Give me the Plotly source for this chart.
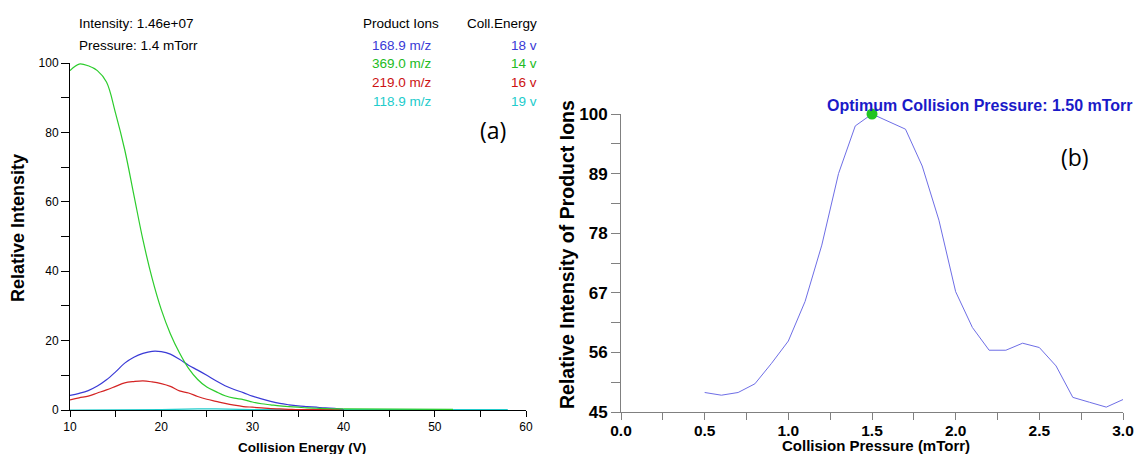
import plotly.graph_objects as go

W, H = 1138, 454

# ---------------- data: panel (a) ----------------
energy = [10, 11, 12, 13, 14, 15, 16, 17, 18, 19, 20, 21, 22, 23, 24, 25, 26, 27, 28, 29,
          30, 31, 32, 33, 34, 35, 36, 37, 38, 39, 40]
ion_1689 = [4.2, 4.8, 5.6, 6.9, 8.7, 11.0, 13.5, 15.2, 16.3, 16.9, 16.8, 16.1, 14.6, 12.9, 11.5,
            10.0, 8.4, 7.0, 5.9, 5.0, 4.0, 3.2, 2.5, 1.9, 1.5, 1.2, 1.0, 0.8, 0.6, 0.5, 0.2]
ion_3690 = [97.8, 99.7, 99.2, 97.8, 94.5, 85.5, 75.0, 62.0, 49.0, 38.0, 29.0, 22.0, 16.5, 12.0, 8.8,
            6.6, 5.3, 4.1, 3.4, 3.0, 2.3, 1.8, 1.5, 1.2, 1.0, 0.8, 0.6, 0.5, 0.4, 0.35, 0.3]
ion_2190 = [2.9, 3.5, 4.0, 4.9, 5.8, 6.8, 7.8, 8.2, 8.4, 8.1, 7.6, 6.8, 5.5, 4.9, 3.9,
            3.1, 2.5, 1.9, 1.4, 1.0, 0.8, 0.6, 0.4, 0.3, 0.2, 0.1, 0.1, 0.1, 0.1, 0.1, 0.1]
tail_energy_3690 = [40, 44, 48, 52]
tail_3690 = [0.3, 0.2, 0.2, 0.2]
energy_1189 = [10, 15, 20, 24, 25, 26, 30, 40, 50, 58]
ion_1189 = [0.0, 0.0, 0.1, 0.3, 0.4, 0.3, 0.1, 0.1, 0.1, 0.1]

product_ions = ["168.9 m/z", "369.0 m/z", "219.0 m/z", "118.9 m/z"]
coll_energy = ["18 v", "14 v", "16 v", "19 v"]

# ---------------- data: panel (b) ----------------
pressure = [0.5, 0.6, 0.7, 0.8, 0.9, 1.0, 1.1, 1.2, 1.3, 1.4, 1.5, 1.6, 1.7, 1.8, 1.9, 2.0,
            2.1, 2.2, 2.3, 2.4, 2.5, 2.6, 2.7, 2.8, 2.9, 3.0]
rel_int = [48.6, 48.1, 48.6, 50.2, 54.0, 58.1, 65.4, 75.8, 89.0, 97.8, 100.0, 98.6, 97.2, 90.4,
           80.4, 67.2, 60.6, 56.4, 56.4, 57.7, 56.9, 53.5, 47.7, 46.8, 45.9, 47.3]
opt_pressure = [1.5]
opt_value = [100.0]
b_yticks = [45, 56, 67, 78, 89, 100]

BLUE = "#3a3ad6"
GREEN = "#2ccc2c"
RED = "#d42424"
CYAN = "#22cccc"
LBLUE = "#6e6ee6"


def px(x):
    return x / W


def py(y):
    return (H - y) / H


fig = go.Figure()

fig.add_trace(go.Scatter(x=energy_1189, y=ion_1189, mode="lines",
                         line=dict(color=CYAN, width=1.2), xaxis="x", yaxis="y"))
fig.add_trace(go.Scatter(x=energy, y=ion_2190, mode="lines", line_shape="spline",
                         line=dict(color=RED, width=1.2), xaxis="x", yaxis="y"))
fig.add_trace(go.Scatter(x=energy, y=ion_1689, mode="lines", line_shape="spline",
                         line=dict(color=BLUE, width=1.2), xaxis="x", yaxis="y"))
fig.add_trace(go.Scatter(x=energy, y=ion_3690, mode="lines", line_shape="spline",
                         line=dict(color=GREEN, width=1.2), xaxis="x", yaxis="y"))
fig.add_trace(go.Scatter(x=tail_energy_3690, y=tail_3690, mode="lines",
                         line=dict(color=GREEN, width=1.2), xaxis="x", yaxis="y"))

fig.add_trace(go.Scatter(x=pressure, y=rel_int, mode="lines",
                         line=dict(color=LBLUE, width=1), xaxis="x2", yaxis="y2"))
fig.add_trace(go.Scatter(x=opt_pressure, y=opt_value, mode="markers",
                         marker=dict(color="#22c422", size=11), xaxis="x2", yaxis="y2",
                         cliponaxis=False))

FONT = "Liberation Sans, Arial, sans-serif"

fig.update_layout(
    width=W, height=H, margin=dict(l=0, r=0, t=0, b=0, pad=0, autoexpand=False),
    paper_bgcolor="white", plot_bgcolor="white", showlegend=False,
    font=dict(family=FONT, color="black"),
    xaxis=dict(domain=[px(70), px(526)], range=[10, 60], dtick=10, tick0=0, automargin=False,
               showgrid=False, zeroline=False, showline=True, linecolor="black", linewidth=1,
               ticks="outside", ticklen=6, tickcolor="black",
               minor=dict(dtick=5, tick0=0, ticks="outside", ticklen=6, tickcolor="black", showgrid=False),
               tickfont=dict(size=12, color="black"), anchor="y"),
    yaxis=dict(domain=[py(410), py(63)], range=[0, 100], dtick=20, tick0=0, automargin=False,
               showgrid=False, zeroline=False, showline=True, linecolor="black", linewidth=1,
               ticks="outside", ticklen=8, tickcolor="black",
               minor=dict(dtick=10, tick0=0, ticks="outside", ticklen=8, tickcolor="black", showgrid=False),
               tickfont=dict(size=12, color="black"), anchor="x"),
    xaxis2=dict(domain=[px(621), px(1123)], range=[0, 3], dtick=0.5, tick0=0, tickformat=".1f",
                automargin=False, ticklabelstandoff=-3,
                showgrid=False, zeroline=False, showline=True, linecolor="#808080", linewidth=1,
                ticks="outside", ticklen=7, tickcolor="#808080",
                minor=dict(dtick=0.25, tick0=0, ticks="outside", ticklen=7, tickcolor="#808080", showgrid=False),
                tickfont=dict(size=15.5, color="black", weight="bold"), anchor="y2"),
    yaxis2=dict(domain=[py(412), py(114)], range=[45, 100], tickvals=b_yticks, automargin=False,
                showgrid=False, zeroline=False, showline=True, linecolor="#808080", linewidth=1,
                ticks="outside", ticklen=9, tickcolor="#808080",
                minor=dict(dtick=5.5, tick0=45, ticks="outside", ticklen=9, tickcolor="#808080", showgrid=False),
                tickfont=dict(size=17, color="black", weight="bold"), anchor="x2"),
)

ann = []


def add(text, x, y, size=13.5, color="black", bold=False, xanchor="left", angle=0, family=FONT):
    ann.append(dict(text=text, x=px(x), y=py(y), xref="paper", yref="paper",
                    xanchor=xanchor, yanchor="middle", showarrow=False, textangle=angle,
                    font=dict(size=size, color=color, family=family,
                              weight="bold" if bold else "normal")))


add("Intensity: 1.46e+07", 77, 24)
add("Pressure: 1.4 mTorr", 77, 45)
add("Product Ions", 441, 24, xanchor="right")
add("Coll.Energy", 539, 24, xanchor="right")
colors = [BLUE, "#22bb22", "#cc1111", CYAN]
rows_y = [45, 64, 83, 102]
for name, ce, c, yy in zip(product_ions, coll_energy, colors, rows_y):
    add(name, 434, yy, color=c, xanchor="right")
    add(ce, 539, yy, color=c, xanchor="right")

add("Relative Intensity", 18, 228, size=18, bold=True, xanchor="center", angle=-90)
add("Collision Energy (V)", 302, 447, size=13.5, bold=True, xanchor="center")
add("(a)", 493, 130, size=23, xanchor="center", family="Open Sans, sans-serif")

add("Relative Intensity of Product Ions", 567, 255, size=19.5, bold=True, xanchor="center", angle=-90)
add("Collision Pressure (mTorr)", 876, 445, size=15, bold=True, xanchor="center")
add("Optimum Collision Pressure: 1.50 mTorr", 825, 105, size=16, color="#1a1ac8", bold=True)
add("(b)", 1075, 157, size=23, xanchor="center", family="Open Sans, sans-serif")

fig.update_layout(annotations=ann)

fig.write_html("out.html", config={"displayModeBar": False},
               post_script="document.body.style.margin='0px';document.body.style.overflow='hidden';")
